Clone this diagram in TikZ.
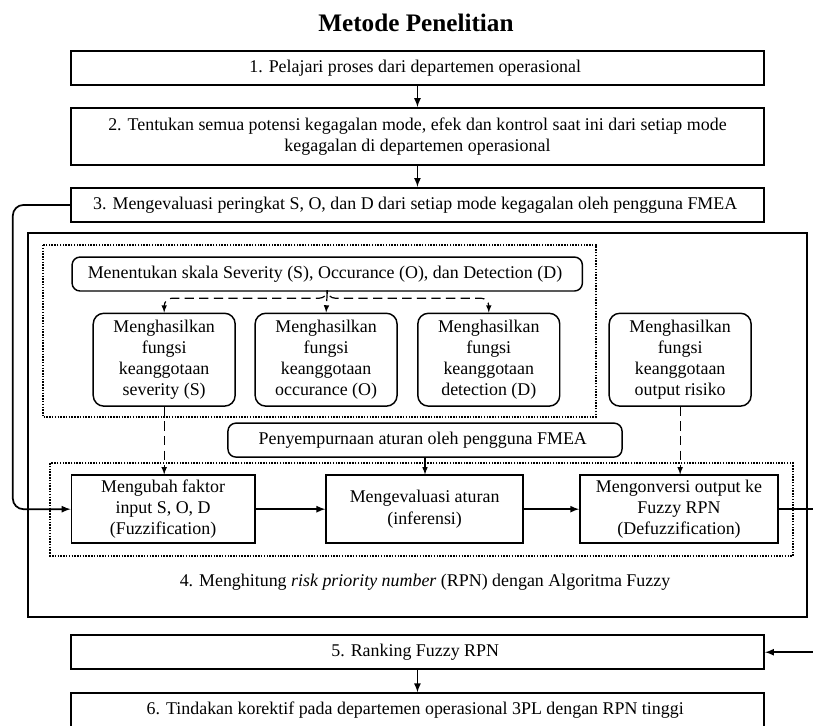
\documentclass[tikz,border=0pt]{standalone}
\usepackage{fontspec}
\setmainfont{Liberation Serif}
\usetikzlibrary{positioning}

\begin{document}
\begin{tikzpicture}[
  >=latex,
  font=\fontsize{13.5}{16}\selectfont,
  stepbox/.style={
      draw,
      line width=1.6pt,
      minimum width=18.36cm,
      minimum height=0.9cm,
      align=center
  },
  scalebox/.style={
      draw,
      line width=1.1pt,
      rounded corners=6pt,
      minimum height=0.9cm,
      align=center
  },
  funcbox/.style={
      draw,
      line width=1.1pt,
      rounded corners=8pt,
      minimum width=3.76cm,
      minimum height=2.46cm,
      align=center
  },
  procbox/.style={
      draw,
      line width=1.1pt,
      minimum height=1.8cm,
      align=center
  },
  dlink/.style={->, line width=0.9pt, dash pattern=on 7pt off 4pt},
  link/.style={->, line width=1.3pt}
]

\fill[white] (0,0) rectangle (21.54,-19.21);
\useasboundingbox (0,0) rectangle (21.54,-19.21);

\node[font=\fontsize{19}{22}\selectfont\bfseries] (title) at (11.02,-0.61) {Metode Penelitian};

\node[stepbox] (s1) at (11.06,-1.80)
{
1. Pelajari proses dari departemen operasional
};

\node[stepbox, minimum height=1.51cm] (s2) at (11.06,-3.62)
{
2. Tentukan semua potensi kegagalan mode, efek dan kontrol saat ini dari setiap mode\\
kegagalan di departemen operasional
};

\node[stepbox] (s3) at (11.06,-5.43)
{
3. Mengevaluasi peringkat S, O, dan D dari setiap mode kegagalan oleh pengguna FMEA
};

\draw[line width=1.5pt] (0.74,-6.17) rectangle (21.39,-16.35);
\draw[densely dotted, line width=1.1pt] (1.14,-6.49) rectangle (15.79,-11.05);
\draw[densely dotted, line width=1.1pt] (1.33,-12.27) rectangle (21.01,-14.73);

\node[scalebox, minimum width=13.52cm] (skala) at (8.67,-7.26)
{
Menentukan skala Severity (S), Occurance (O), dan Detection (D)
};

\node[funcbox] (fs) at (4.35,-9.53)
{
Menghasilkan\\ fungsi\\ keanggotaan\\ severity (S)
};

\node[funcbox] (fo) at (8.64,-9.53)
{
Menghasilkan\\ fungsi\\ keanggotaan\\ occurance (O)
};

\node[funcbox] (fd) at (12.95,-9.53)
{
Menghasilkan\\ fungsi\\ keanggotaan\\ detection (D)
};

\node[funcbox] (fr) at (18.02,-9.53)
{
Menghasilkan\\ fungsi\\ keanggotaan\\ output risiko
};

\node[scalebox, minimum width=10.44cm] (aturan) at (11.26,-11.66)
{
Penyempurnaan aturan oleh pengguna FMEA
};

\node[procbox, minimum width=4.86cm] (fuzz) at (4.32,-13.49)
{
Mengubah faktor\\ input S, O, D\\ (Fuzzification)
};

\node[procbox, minimum width=5.22cm] (infer) at (11.25,-13.49)
{
Mengevaluasi aturan\\ (inferensi)
};

\node[procbox, minimum width=5.25cm] (defuzz) at (17.99,-13.49)
{
Mengonversi output ke\\ Fuzzy RPN\\ (Defuzzification)
};

\node (s4) at (11.26,-15.42)
{
4. Menghitung \textit{risk priority number} (RPN) dengan Algoritma Fuzzy
};

\node[stepbox] (s5) at (11.06,-17.28)
{
5. Ranking Fuzzy RPN
};

\node[stepbox] (s6) at (11.06,-18.82)
{
6. Tindakan korektif pada departemen operasional 3PL dengan RPN tinggi
};

\draw[link] (s1.south) -- (s2.north);
\draw[link] (s2.south) -- (s3.north);

\draw[link, rounded corners=8pt]
(s3.west) -| (0.34,-13.49) -- (fuzz.west);

\draw[dlink] (skala.south) -- (fo.north);
\draw[dlink, rounded corners=6pt] (skala.south) |- (8.67,-7.90) -| (fs.north);
\draw[dlink, rounded corners=6pt] (skala.south) |- (8.67,-7.90) -| (fd.north);

\draw[dlink] (fs.south) -- (fuzz.north -| fs.south);
\draw[dlink] (aturan.south) -- (infer.north -| aturan.south);
\draw[dlink] (fr.south) -- (defuzz.north -| fr.south);

\draw[link] (fuzz.east) -- (infer.west);
\draw[link] (infer.east) -- (defuzz.west);

\draw[link]
(defuzz.east) -- (21.6,-13.49) |- (s5.east);

\draw[link] (s5.south) -- (s6.north);

\end{tikzpicture}
\end{document}
